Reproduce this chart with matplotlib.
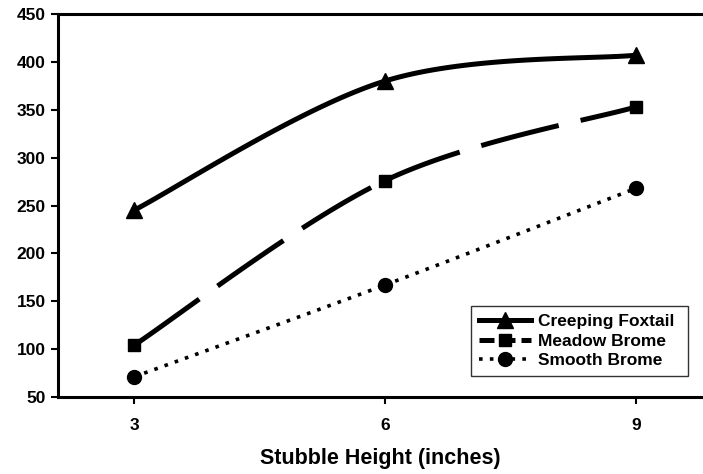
import numpy as np
import matplotlib.pyplot as plt

plt.rcParams['font.family'] = ['Liberation Sans', 'DejaVu Sans']
plt.rcParams['font.weight'] = 'bold'

heights = [3, 6, 9]
creeping_foxtail = [245, 380, 407]
meadow_brome = [104, 276, 353]
smooth_brome = [71, 167, 268]
y_ticks = [50, 100, 150, 200, 250, 300, 350, 400, 450]


def smooth_segments(x, y, n=60):
    # Excel-style smoothed line (Catmull-Rom as cubic Bezier), one piece per interval
    x = np.asarray(x, float)
    y = np.asarray(y, float)
    px = np.concatenate([[x[0]], x, [x[-1]]])
    py = np.concatenate([[y[0]], y, [y[-1]]])
    t = np.linspace(0, 1, n)
    segs = []
    for i in range(1, len(px) - 2):
        p0 = np.array([px[i], py[i]])
        p3 = np.array([px[i + 1], py[i + 1]])
        p1 = p0 + (np.array([px[i + 1], py[i + 1]]) - np.array([px[i - 1], py[i - 1]])) / 6
        p2 = p3 - (np.array([px[i + 2], py[i + 2]]) - np.array([px[i], py[i]])) / 6
        b = ((1 - t) ** 3)[:, None] * p0 + (3 * (1 - t) ** 2 * t)[:, None] * p1 \
            + (3 * (1 - t) * t ** 2)[:, None] * p2 + (t ** 3)[:, None] * p3
        segs.append((b[:, 0], b[:, 1]))
    return segs


fig = plt.figure(figsize=(7.03, 4.74), dpi=100)
ax = fig.add_axes([58 / 703, 77 / 474, 645 / 703, 383 / 474])

series = [
    ("Creeping Foxtail", creeping_foxtail, '^', 11, '-', None, 3.6),
    ("Meadow Brome", meadow_brome, 's', 8.5, '--', (16, 4.5), 3.6),
    ("Smooth Brome", smooth_brome, 'o', 10, ':', (1, 2), 2.6),
]
for name, vals, m, ms, ls, dash, lw in series:
    for sx, sy in smooth_segments(heights, vals):
        line, = ax.plot(sx, sy, color='black', lw=lw, ls=ls, solid_capstyle='butt')
        if dash is not None:
            line.set_dashes(dash)
            line.set_dash_capstyle('butt')
    ax.plot(heights, vals, ls='none', marker=m, ms=ms, color='black')
    # legend proxy
    proxy, = ax.plot([], [], color='black', lw=lw, ls=ls, marker=m, ms=ms, label=name)
    if dash is not None:
        proxy.set_dashes(dash if ls == ':' else (3, 1.2))

ax.set_xlim(2.092, 9.80)
ax.set_ylim(50, 450)
ax.set_xticks(heights, labels=[str(h) for h in heights], fontweight='bold', fontsize=12.5)
ax.set_yticks(y_ticks, labels=[str(v) for v in y_ticks], fontweight='bold', fontsize=12.5)
ax.tick_params(axis='both', direction='out', length=5, width=1.5)
ax.tick_params(axis='y', pad=4)
ax.tick_params(axis='x', pad=10)

ax.spines['right'].set_visible(False)
for s in ['left', 'bottom', 'top']:
    ax.spines[s].set_linewidth(2.2)

ax.set_xlabel("Stubble Height (inches)", fontsize=15.5, fontweight='bold', labelpad=11)

leg = ax.legend(loc='lower left', bbox_to_anchor=(413 / 645, 21 / 383, 217 / 645, 93 / 383),
                mode='expand', frameon=True, fancybox=False, handlelength=3.0,
                prop={'weight': 'bold', 'size': 12.5}, borderaxespad=0, labelspacing=0.25,
                handletextpad=0.4, borderpad=0.45)
leg.get_frame().set_edgecolor('black')
leg.get_frame().set_linewidth(1.0)

fig.savefig('out.png', dpi=100)
